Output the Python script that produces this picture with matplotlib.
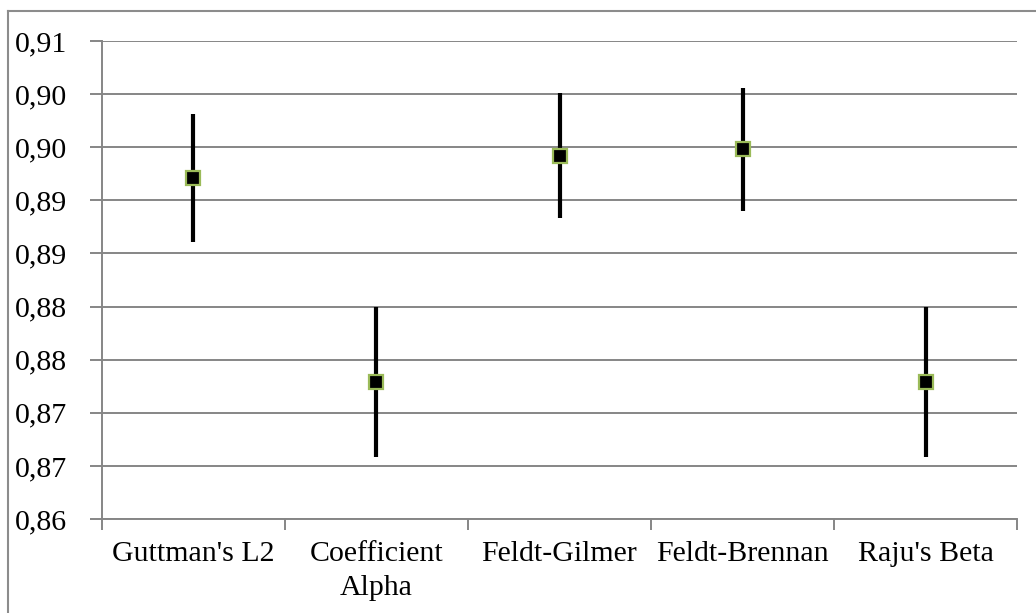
import matplotlib
matplotlib.use("Agg")
import matplotlib.pyplot as plt
from matplotlib.lines import Line2D
import numpy as np

# Reliability coefficients with their interval half-widths
categories = ["Guttman's L2", "Coefficient\nAlpha", "Feldt-Gilmer", "Feldt-Brennan", "Raju's Beta"]
estimates = [0.8921, 0.8729, 0.8942, 0.8948, 0.8729]
half_widths = [0.0060, 0.0071, 0.0059, 0.0058, 0.0071]

y_ticks = [0.860, 0.865, 0.870, 0.875, 0.880, 0.885, 0.890, 0.895, 0.900, 0.905]
y_tick_labels = ["0,86", "0,87", "0,87", "0,88", "0,88", "0,89", "0,89", "0,90", "0,90", "0,91"]

plt.rcParams["font.family"] = ["Liberation Serif", "DejaVu Serif"]

W, H = 1036, 613
fig = plt.figure(figsize=(W / 100, H / 100), dpi=100)
ax = fig.add_axes([101.7 / W, 1 - 519 / H, (1017.3 - 101.7) / W, (519 - 41) / H])

grey = "#868686"
x = np.arange(len(categories))

ax.errorbar(x, estimates, yerr=half_widths, fmt="none", ecolor="black",
            elinewidth=3.0, capsize=0, zorder=3)
ax.plot(x, estimates, linestyle="none", marker="s", markersize=9.5,
        markerfacecolor="black", markeredgecolor="#9BBB59",
        markeredgewidth=1.6, zorder=4)

ax.set_xlim(-0.5, len(categories) - 0.5)
ax.set_ylim(y_ticks[0], y_ticks[-1])
ax.set_yticks(y_ticks)
ax.set_yticklabels(y_tick_labels)
ax.set_xticks(x)
ax.set_xticklabels(categories, linespacing=1.4)
ax.set_xticks(np.arange(-0.5, len(categories)), minor=True)

for yv in y_ticks:
    ax.axhline(yv, color=grey, linewidth=1.4, zorder=1)

for side in ("top", "right"):
    ax.spines[side].set_visible(False)
for side in ("left", "bottom"):
    ax.spines[side].set_color(grey)
    ax.spines[side].set_linewidth(1.4)

ax.tick_params(axis="y", direction="out", length=9, width=1.4, color=grey,
               labelsize=21.5, pad=16)
ax.tick_params(axis="x", which="major", length=0, labelsize=21.5, pad=16)
ax.tick_params(axis="x", which="minor", direction="out", length=8, width=1.4,
               color=grey)

# outer chart frame
frame_kw = dict(color="#8c8c8c", linewidth=1.5, transform=None)
fig.add_artist(Line2D([8, W], [H - 11, H - 11], **frame_kw))
fig.add_artist(Line2D([8, 8], [0, H - 11], **frame_kw))

fig.savefig("out.png", dpi=100)
